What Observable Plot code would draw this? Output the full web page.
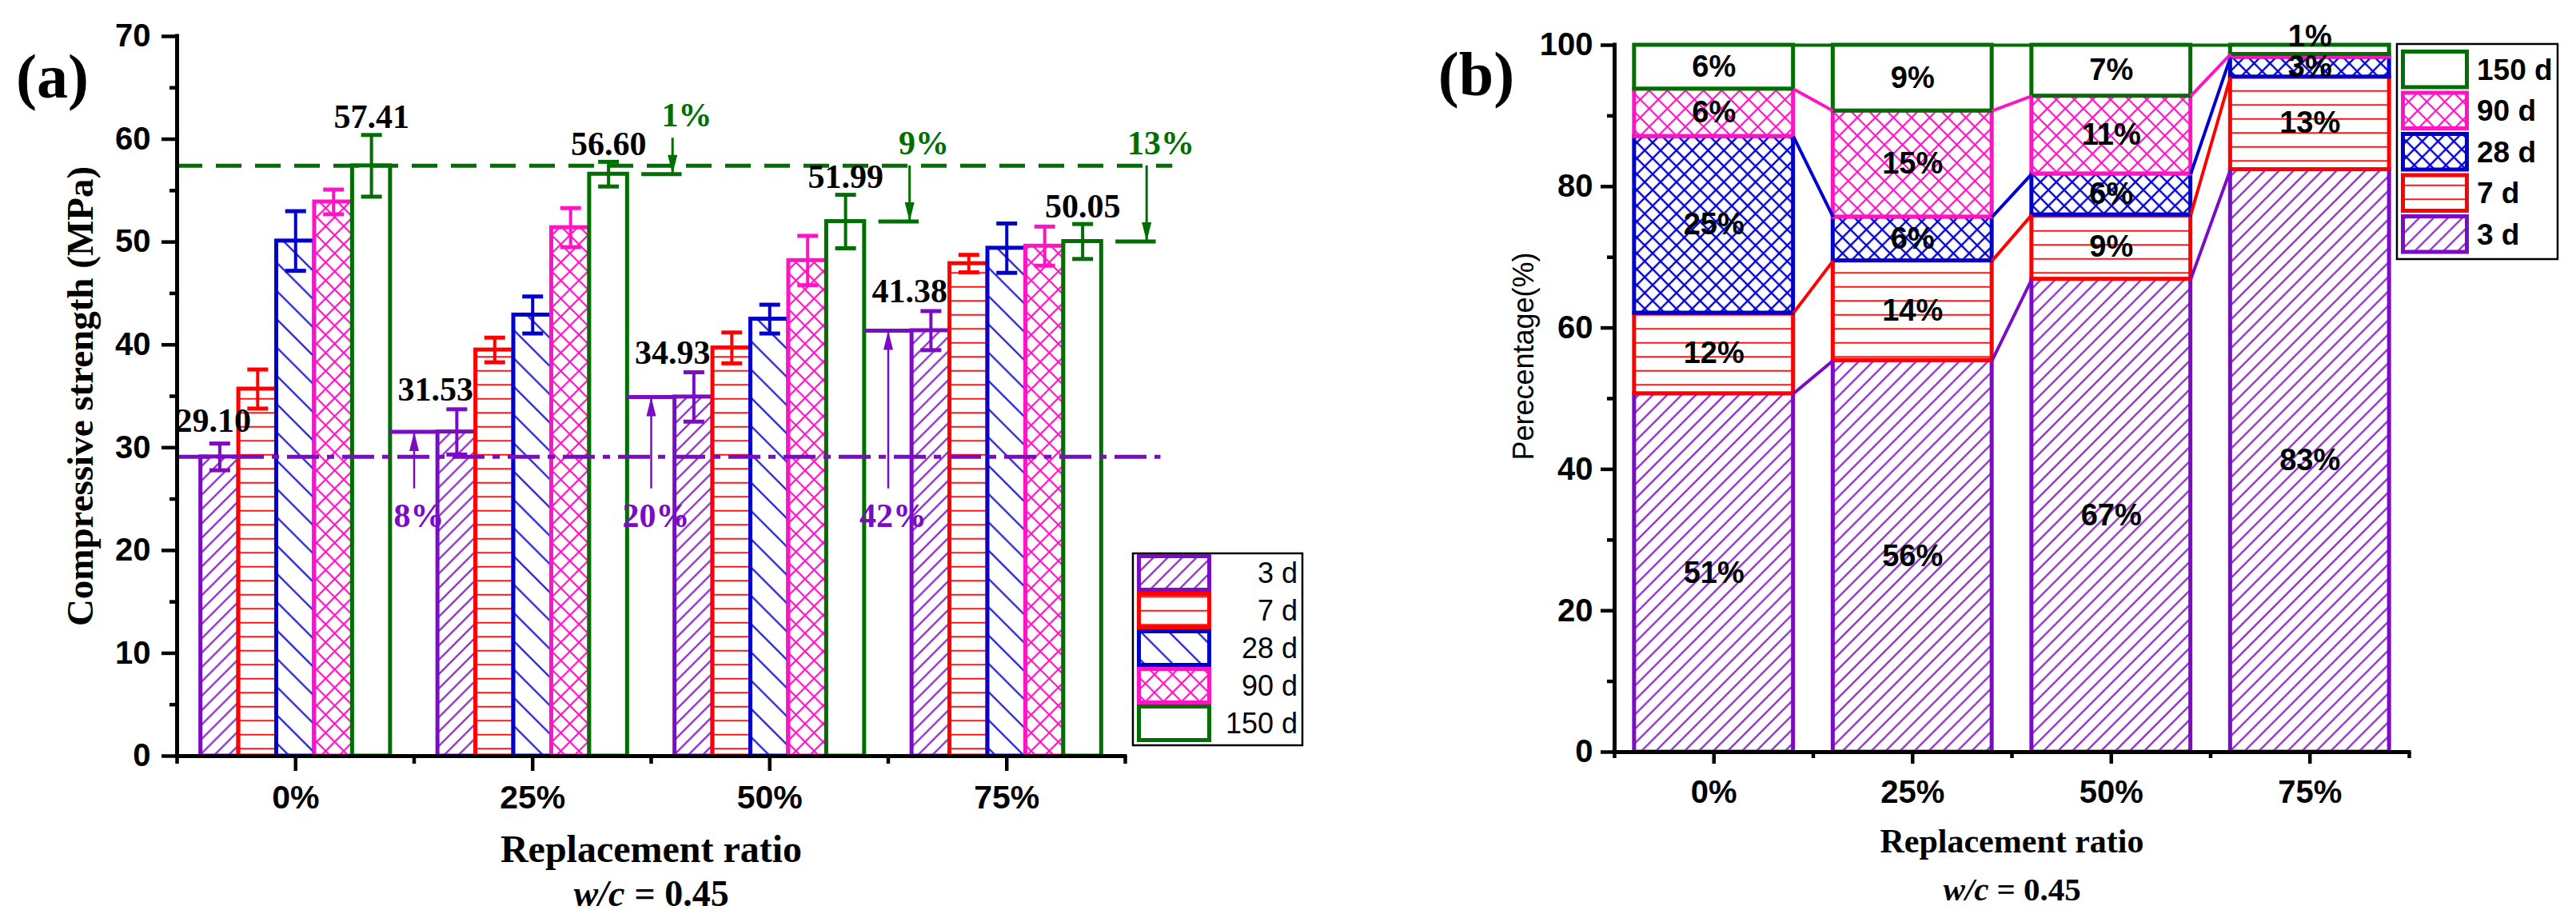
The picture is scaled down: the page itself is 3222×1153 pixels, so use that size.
<!DOCTYPE html>
<html>
<head>
<meta charset="utf-8">
<script src="https://cdn.jsdelivr.net/npm/d3@7"></script>
<script src="https://cdn.jsdelivr.net/npm/@observablehq/plot@0.6"></script>
<style>
html, body { margin: 0; padding: 0; background: #fff; }
#page { position: relative; width: 3222px; height: 1153px; overflow: hidden; background: #fff; }
.panel { position: absolute; top: 0; }
.panel svg { max-width: none !important; }
</style>
</head>
<body>
<div id="page"></div>
<script>
// ---------------- data ----------------
const categories = ["0%", "25%", "50%", "75%"];
const ages = ["3 d", "7 d", "28 d", "90 d", "150 d"];

// (a) compressive strength, MPa
const strength3d   = [29.10, 31.53, 34.93, 41.38];
const strength7d   = [35.7, 39.5, 39.7, 47.9];
const strength28d  = [50.1, 42.9, 42.5, 49.4];
const strength90d  = [53.9, 51.4, 48.2, 49.6];
const strength150d = [57.41, 56.60, 51.99, 50.05];
// (a) error bar half-widths, MPa
const err3d   = [1.3, 2.2, 2.4, 1.9];
const err7d   = [1.9, 1.2, 1.5, 0.85];
const err28d  = [2.9, 1.8, 1.4, 2.4];
const err90d  = [1.2, 1.9, 2.4, 1.9];
const err150d = [3.0, 1.2, 2.6, 1.7];
// (a) annotations for 25%, 50%, 75%
const gainLabels = ["8%", "20%", "42%"];
const lossLabels = ["1%", "9%", "13%"];

// (b) share of the 150 d strength reached by each age, %
const pct3d   = [50.7, 55.4, 66.9, 82.4];
const pct7d   = [11.4, 14.1, 9.1, 13.1];
const pct28d  = [25.0, 6.2, 5.8, 2.8];
const pct90d  = [6.7, 15.0, 11.0, 0.4];
const pct150d = [6.2, 9.3, 7.2, 1.3];
const lab3d   = ["51%", "56%", "67%", "83%"];
const lab7d   = ["12%", "14%", "9%", "13%"];
const lab28d  = ["25%", "6%", "6%", "3%"];
const lab90d  = ["6%", "15%", "11%", ""];
const lab150d = ["6%", "9%", "7%", "1%"];

// ---------------- styles ----------------
const SANS = "'Liberation Sans', Arial, Helvetica, sans-serif";
const SERIF = "'Liberation Serif', 'Times New Roman', Times, serif";
const ageColors = ["#7B0CC4", "#FF0000", "#0000CC", "#FF14C4", "#006E00"];
const PURPLE = ageColors[0], GREEN = ageColors[4];
const NS = "http://www.w3.org/2000/svg";

// hatch patterns
const defsSvg = document.createElementNS(NS, "svg");
defsSvg.setAttribute("width", 0); defsSvg.setAttribute("height", 0);
defsSvg.style.position = "absolute";
const defs = document.createElementNS(NS, "defs");
defsSvg.appendChild(defs);
document.body.appendChild(defsSvg);
function makePattern(id, color, size, angle, lw, cross) {
  const p = document.createElementNS(NS, "pattern");
  p.setAttribute("id", id);
  p.setAttribute("patternUnits", "userSpaceOnUse");
  p.setAttribute("width", size); p.setAttribute("height", size);
  if (angle) p.setAttribute("patternTransform", `rotate(${angle})`);
  const bg = document.createElementNS(NS, "rect");
  bg.setAttribute("width", size); bg.setAttribute("height", size); bg.setAttribute("fill", "white");
  p.appendChild(bg);
  const l = document.createElementNS(NS, "line");
  l.setAttribute("x1", -1); l.setAttribute("x2", size + 1);
  l.setAttribute("y1", size / 2); l.setAttribute("y2", size / 2);
  l.setAttribute("stroke", color); l.setAttribute("stroke-width", lw);
  p.appendChild(l);
  if (cross) {
    const v = document.createElementNS(NS, "line");
    v.setAttribute("y1", -1); v.setAttribute("y2", size + 1);
    v.setAttribute("x1", size / 2); v.setAttribute("x2", size / 2);
    v.setAttribute("stroke", color); v.setAttribute("stroke-width", lw);
    p.appendChild(v);
  }
  defs.appendChild(p);
}
makePattern("pa0", ageColors[0], 12.7, -45, 2, false);
makePattern("pa1", ageColors[1], 17.5, 0, 1.8, false);
makePattern("pa2", ageColors[2], 25, 45, 2, false);
makePattern("pa3", ageColors[3], 16, 45, 2.2, true);
makePattern("pb0", ageColors[0], 12.7, -45, 2, false);
makePattern("pb1", ageColors[1], 17.5, 0, 1.8, false);
makePattern("pb2", ageColors[2], 14, 45, 2.4, true);
makePattern("pb3", ageColors[3], 16, 45, 2.2, true);
const fillA = j => j === 4 ? "white" : `url(#pa${j})`;
const fillB = j => j === 4 ? "white" : `url(#pb${j})`;

// custom symbols
const capSym = {draw(ctx) { ctx.moveTo(-13, 0); ctx.lineTo(13, 0); }};
const headSym = {draw(ctx) { ctx.moveTo(0, 0); ctx.lineTo(6, 24); ctx.lineTo(-6, 24); ctx.closePath(); }};

function boxText(svg, label, px, py) {
  svg.querySelectorAll(`g[aria-label="${label}"] text`).forEach(t => {
    const b = t.getBBox();
    const r = document.createElementNS(NS, "rect");
    r.setAttribute("x", b.x - px); r.setAttribute("y", b.y - py);
    r.setAttribute("width", b.width + 2 * px); r.setAttribute("height", b.height + 2 * py);
    r.setAttribute("fill", "white"); r.setAttribute("stroke", "none");
    const tr = t.getAttribute("transform");
    if (tr) r.setAttribute("transform", tr);
    t.parentNode.insertBefore(r, t);
  });
}

const page = document.getElementById("page");
function mount(node, left) {
  const w = document.createElement("div");
  w.className = "panel"; w.style.left = left + "px";
  w.appendChild(node); page.appendChild(w);
}

// ---------------- panel (a) ----------------
const strengthA = [strength3d, strength7d, strength28d, strength90d, strength150d];
const errA = [err3d, err7d, err28d, err90d, err150d];
const BAR = 0.16;
const rowsA = [];
categories.forEach((cat, i) => ages.forEach((age, j) => rowsA.push({
  cat, i, age, j, value: strengthA[j][i], err: errA[j][i], x: i + (j - 2) * BAR
})));
const refHigh = strength150d[0];
const refLow = strength3d[0];
const gainRows = gainLabels.map((label, k) => ({i: k + 1, level: strength3d[k + 1], label}));
const lossRows = lossLabels.map((label, k) => ({i: k + 1, level: strength150d[k + 1], label}));
const lossStart = d => Math.max(refHigh, d.level + 3.5);

const serifBold = {fontFamily: SERIF, fontWeight: "bold"};
const centered = {textAnchor: "middle", lineAnchor: "middle"};

const plotA = Plot.plot({
  width: 1650, height: 1153,
  marginLeft: 221, marginRight: 243, marginTop: 45, marginBottom: 208,
  x: {domain: [-0.5, 3.5]},
  y: {domain: [0, 70]},
  color: {type: "identity"},
  style: {fontFamily: SANS, background: "white", overflow: "visible"},
  marks: [
    Plot.rect(rowsA, {x1: d => d.x - BAR / 2, x2: d => d.x + BAR / 2, y1: 0, y2: "value",
      fill: d => fillA(d.j), stroke: d => ageColors[d.j], strokeWidth: 5}),
    Plot.ruleX(rowsA, {x: "x", y1: d => d.value - d.err, y2: d => d.value + d.err,
      stroke: d => ageColors[d.j], strokeWidth: 4}),
    Plot.dot(rowsA, {x: "x", y: d => d.value + d.err, symbol: capSym, r: 5, fill: "none",
      stroke: d => ageColors[d.j], strokeWidth: 5}),
    Plot.dot(rowsA, {x: "x", y: d => d.value - d.err, symbol: capSym, r: 5, fill: "none",
      stroke: d => ageColors[d.j], strokeWidth: 5}),
    Plot.ruleY([refHigh], {x1: -0.5, x2: 3.7, stroke: GREEN, strokeWidth: 5, strokeDasharray: "32,17"}),
    Plot.ruleY([refLow], {x1: -0.5, x2: 3.65, stroke: PURPLE, strokeWidth: 5, strokeDasharray: "40,10,9,10"}),
    // gains of 3 d strength (purple)
    Plot.ruleY(gainRows, {y: "level", x1: d => d.i - 0.6, x2: d => d.i - 0.4, stroke: PURPLE, strokeWidth: 5}),
    Plot.ruleX(gainRows, {x: d => d.i - 0.5, y1: 26, y2: "level", stroke: PURPLE, strokeWidth: 2.5}),
    Plot.dot(gainRows, {x: d => d.i - 0.5, y: "level", symbol: headSym, r: 5, fill: PURPLE, stroke: "none"}),
    // losses of 150 d strength (green)
    Plot.ruleY(lossRows, {y: "level", x1: d => d.i + 0.46, x2: d => d.i + 0.63, stroke: GREEN, strokeWidth: 5}),
    Plot.ruleX(lossRows, {x: d => d.i + 0.59, y1: lossStart, y2: "level", stroke: GREEN, strokeWidth: 3}),
    Plot.dot(lossRows, {x: d => d.i + 0.59, y: "level", symbol: headSym, rotate: 180, r: 5, fill: GREEN, stroke: "none"}),
    // axes
    Plot.ruleX([-0.5], {y1: 0, y2: 70, strokeWidth: 5, strokeLinecap: "square"}),
    Plot.ruleY([0], {x1: -0.5, x2: 3.5, strokeWidth: 5, strokeLinecap: "square"}),
    Plot.axisY({ticks: d3.range(0, 71, 10), tickSize: 19, tickPadding: 14, strokeWidth: 4.5,
      fontSize: 40, fontWeight: "bold", label: null}),
    Plot.axisY({ticks: d3.range(5, 70, 10), tickSize: 9, tickFormat: () => "", strokeWidth: 4.5, label: null}),
    Plot.axisX({ticks: [0, 1, 2, 3], tickFormat: i => categories[i], tickSize: 19, tickPadding: 17,
      strokeWidth: 4.5, fontSize: 41, fontWeight: "bold", label: null}),
    Plot.axisX({ticks: [-0.5, 0.5, 1.5, 2.5, 3.5], tickSize: 10, tickFormat: () => "", strokeWidth: 4.5, label: null}),
    // value labels
    Plot.text(rowsA.filter(d => d.j === 4), {x: "x", y: d => d.value + d.err, dy: -22,
      text: d => d.value.toFixed(2), fontSize: 42, ...serifBold, fill: "black", ariaLabel: "value-labels"}),
    Plot.text(rowsA.filter(d => d.j === 0 && d.i === 0), {x: "x", y: d => d.value + d.err, dx: -8, dy: -28,
      text: d => d.value.toFixed(2), fontSize: 42, ...serifBold, fill: "black", ariaLabel: "value-labels-0"}),
    Plot.text(rowsA.filter(d => d.j === 0 && d.i > 0), {x: d => d.i - 0.41, y: d => d.value + d.err, dy: -24,
      text: d => d.value.toFixed(2), fontSize: 42, ...serifBold, fill: "black", ariaLabel: "value-labels-3d"}),
    Plot.text(gainRows, {x: d => d.i - 0.48, y: 23.3, text: "label", fontSize: 42, ...serifBold,
      fill: PURPLE, ariaLabel: "gain-labels"}),
    Plot.text(lossRows, {x: d => d.i + 0.65, y: d => lossStart(d) + 2.2, text: "label", fontSize: 42, ...serifBold,
      fill: GREEN}),
    // titles
    Plot.text(["Compressive strength (MPa)"], {frameAnchor: "left", dx: -121, rotate: -90, ...centered, fontSize: 47, ...serifBold, fill: "black"}),
    Plot.text(["Replacement ratio"], {frameAnchor: "bottom", dy: 117, ...centered, fontSize: 48, ...serifBold, fill: "black"}),
    Plot.text(["w/c"], {frameAnchor: "bottom", dy: 173, dx: -33, textAnchor: "end", lineAnchor: "middle", fontStyle: "italic", fontSize: 46, ...serifBold, fill: "black"}),
    Plot.text(["= 0.45"], {frameAnchor: "bottom", dy: 173, dx: -21, textAnchor: "start", lineAnchor: "middle", fontSize: 46, ...serifBold, fill: "black"}),
    Plot.text(["(a)"], {frameAnchor: "top-left", dx: -156, dy: 52, ...centered, fontSize: 78, ...serifBold, fill: "black"})
  ]
});
mount(plotA, 0);
boxText(plotA, "value-labels", 3, 1);
boxText(plotA, "value-labels-0", 6, 1);
boxText(plotA, "value-labels-3d", 3, 1);
boxText(plotA, "gain-labels", 8, 7);

// ---------------- panel (b) ----------------
const pctB = [pct3d, pct7d, pct28d, pct90d, pct150d];
const labB = [lab3d, lab7d, lab28d, lab90d, lab150d];
const HALF = 0.4;
const rowsB = [];
categories.forEach((cat, i) => {
  let c = 0;
  ages.forEach((age, j) => {
    const v = pctB[j][i];
    rowsB.push({cat, i, age, j, y1: c, y2: c + v, label: labB[j][i]});
    c += v;
  });
});
rowsB.sort((a, b) => a.j - b.j || a.i - b.i);
const topOf = (i, j) => rowsB.find(d => d.i === i && d.j === j).y2;
const linksB = [];
ages.forEach((age, j) => { for (let i = 0; i < categories.length - 1; i++) linksB.push({j, i, ya: topOf(i, j), yb: topOf(i + 1, j)}); });
const isTopOverflow = d => d.j === 4 && d.i === 3;

const plotB = Plot.plot({
  width: 1442, height: 1153,
  marginLeft: 239, marginRight: 209, marginTop: 56, marginBottom: 213,
  x: {domain: [-0.5, 3.5]},
  y: {domain: [0, 100]},
  color: {type: "identity"},
  style: {fontFamily: SANS, background: "white", overflow: "visible"},
  marks: [
    Plot.rect(rowsB, {x1: d => d.i - HALF, x2: d => d.i + HALF, y1: "y1", y2: "y2",
      fill: d => fillB(d.j), stroke: d => ageColors[d.j], strokeWidth: 5}),
    Plot.link(linksB, {x1: d => d.i + HALF, y1: "ya", x2: d => d.i + 1 - HALF, y2: "yb",
      stroke: d => ageColors[d.j], strokeWidth: 4}),
    Plot.ruleX([-0.5], {y1: 0, y2: 100, strokeWidth: 5, strokeLinecap: "square"}),
    Plot.ruleY([0], {x1: -0.5, x2: 3.5, strokeWidth: 5, strokeLinecap: "square"}),
    Plot.axisY({ticks: d3.range(0, 101, 20), tickSize: 17, tickPadding: 10, strokeWidth: 4.5,
      fontSize: 40, fontWeight: "bold", label: null}),
    Plot.axisY({ticks: d3.range(10, 100, 20), tickSize: 9, tickFormat: () => "", strokeWidth: 4.5, label: null}),
    Plot.axisX({ticks: [0, 1, 2, 3], tickFormat: i => categories[i], tickSize: 15, tickPadding: 20,
      strokeWidth: 4.5, fontSize: 40, fontWeight: "bold", label: null}),
    Plot.axisX({ticks: [-0.5, 0.5, 1.5, 2.5, 3.5], tickSize: 8, tickFormat: () => "", strokeWidth: 4.5, label: null}),
    Plot.text(rowsB.filter(d => d.label && !isTopOverflow(d)), {x: "i", y: d => (d.y1 + d.y2) / 2, text: "label",
      fontSize: 38, fontWeight: "bold", fill: "black"}),
    Plot.text(rowsB.filter(d => d.label && isTopOverflow(d)), {x: "i", y: "y2", dy: -11, text: "label",
      fontSize: 38, fontWeight: "bold", fill: "black"}),
    Plot.text(["Perecentage(%)"], {frameAnchor: "left", dx: -113, dy: -53, rotate: -90, ...centered, fontSize: 36, fill: "black"}),
    Plot.text(["Replacement ratio"], {frameAnchor: "bottom", dy: 112, ...centered, fontSize: 42, ...serifBold, fill: "black"}),
    Plot.text(["w/c"], {frameAnchor: "bottom", dy: 172, dx: -29, textAnchor: "end", lineAnchor: "middle", fontStyle: "italic", fontSize: 41, ...serifBold, fill: "black"}),
    Plot.text(["= 0.45"], {frameAnchor: "bottom", dy: 172, dx: -19, textAnchor: "start", lineAnchor: "middle", fontSize: 41, ...serifBold, fill: "black"}),
    Plot.text(["(b)"], {frameAnchor: "top-left", dx: -173, dy: 38, ...centered, fontSize: 78, ...serifBold, fill: "black"})
  ]
});
mount(plotB, 1780);

// ---------------- legends ----------------
function legend({left, top, width, height, box, order, fill, swX, swW, rowTop, rowH, swH, labelX, anchor, weight, size}) {
  const svg = d3.create("svg").attr("width", width).attr("height", height)
    .style("position", "absolute").style("left", left + "px").style("top", top + "px");
  svg.append("rect").attr("x", box[0]).attr("y", box[1]).attr("width", box[2]).attr("height", box[3])
    .attr("fill", "white").attr("stroke", "black").attr("stroke-width", 2.5);
  order.forEach((j, k) => {
    const y0 = rowTop + k * rowH;
    svg.append("rect").attr("x", swX + 2.5).attr("y", y0 + 2.5).attr("width", swW - 5).attr("height", swH - 5)
      .attr("fill", fill(j)).attr("stroke", ageColors[j]).attr("stroke-width", 5);
    svg.append("text").attr("x", labelX).attr("y", y0 + swH / 2).attr("dy", "0.35em")
      .attr("text-anchor", anchor).attr("font-family", SANS).attr("font-weight", weight)
      .attr("font-size", size).attr("fill", "black").text(ages[j]);
  });
  page.appendChild(svg.node());
}
legend({left: 1410, top: 685, width: 232, height: 260, box: [7, 7, 212, 240], order: [0, 1, 2, 3, 4], fill: fillA,
  swX: 12, swW: 93, rowTop: 8, rowH: 47, swH: 47, labelX: 213, anchor: "end", weight: "normal", size: 36});
legend({left: 2990, top: 48, width: 220, height: 285, box: [8, 7, 201, 269], order: [4, 3, 2, 1, 0], fill: fillB,
  swX: 13, swW: 85, rowTop: 14, rowH: 51.5, swH: 49.5, labelX: 108, anchor: "start", weight: "bold", size: 37});
</script>
</body>
</html>
